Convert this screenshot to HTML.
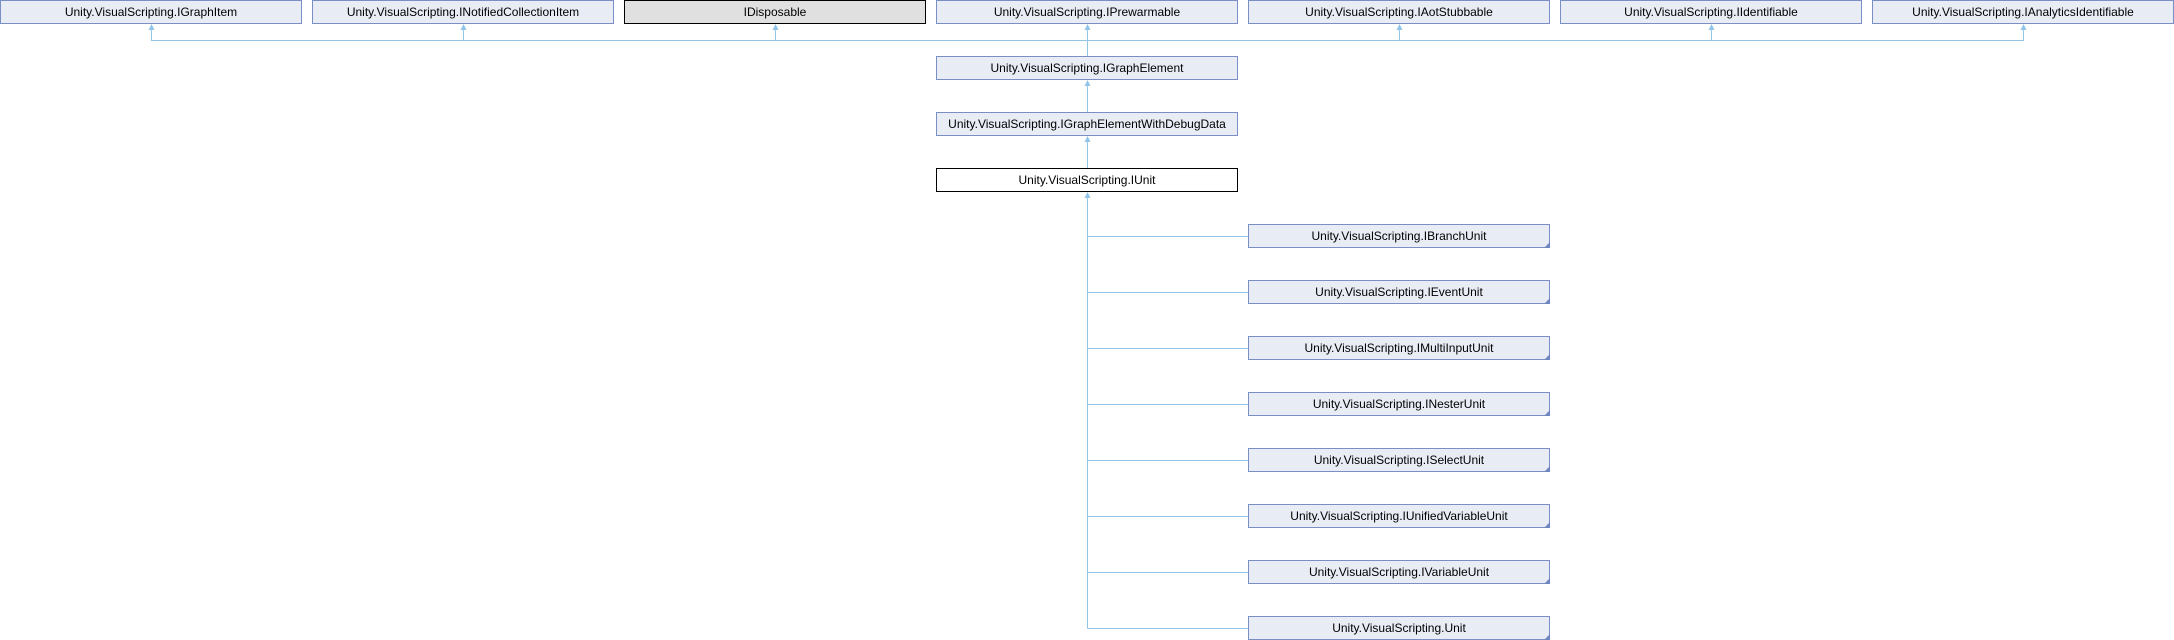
<!DOCTYPE html>
<html><head><meta charset="utf-8"><style>
html,body{margin:0;padding:0;background:#fff;}
svg{display:block;}
text{font-family:"Liberation Sans",Arial,sans-serif;font-size:12px;fill:#000;text-anchor:middle;}
.b{fill:#e8ecf5;stroke:#7b8fc6;stroke-width:1;}
.l{stroke:#93c6e6;stroke-width:1;fill:none;}
.a{fill:#93c6e6;}
.c{fill:#6f86bf;}
</style></head><body>
<svg width="2174" height="640" viewBox="0 0 2174 640" xmlns="http://www.w3.org/2000/svg">
<rect class="b" x="0.5" y="0.5" width="301" height="23"/><text x="151" y="16">Unity.VisualScripting.IGraphItem</text>
<rect class="b" x="312.5" y="0.5" width="301" height="23"/><text x="463" y="16">Unity.VisualScripting.INotifiedCollectionItem</text>
<rect x="624.5" y="0.5" width="301" height="23" fill="#e0e0e0" stroke="#000"/><text x="775" y="16">IDisposable</text>
<rect class="b" x="936.5" y="0.5" width="301" height="23"/><text x="1087" y="16">Unity.VisualScripting.IPrewarmable</text>
<rect class="b" x="1248.5" y="0.5" width="301" height="23"/><text x="1399" y="16">Unity.VisualScripting.IAotStubbable</text>
<rect class="b" x="1560.5" y="0.5" width="301" height="23"/><text x="1711" y="16">Unity.VisualScripting.IIdentifiable</text>
<rect class="b" x="1872.5" y="0.5" width="301" height="23"/><text x="2023" y="16">Unity.VisualScripting.IAnalyticsIdentifiable</text>
<path class="l" d="M151.5 26V40.5H2023.5V26 M463.5 26V40.5 M775.5 26V40.5 M1087.5 26V56 M1399.5 26V40.5 M1711.5 26V40.5"/>
<g class="a">
<polygon points="151.5,24 148.5,30 154.5,30"/>
<polygon points="463.5,24 460.5,30 466.5,30"/>
<polygon points="775.5,24 772.5,30 778.5,30"/>
<polygon points="1087.5,24 1084.5,30 1090.5,30"/>
<polygon points="1399.5,24 1396.5,30 1402.5,30"/>
<polygon points="1711.5,24 1708.5,30 1714.5,30"/>
<polygon points="2023.5,24 2020.5,30 2026.5,30"/>
</g>
<rect class="b" x="936.5" y="56.5" width="301" height="23"/><text x="1087" y="72">Unity.VisualScripting.IGraphElement</text>
<path class="l" d="M1087.5 82V112"/><polygon class="a" points="1087.5,80 1084.5,86 1090.5,86"/>
<rect class="b" x="936.5" y="112.5" width="301" height="23"/><text x="1087" y="128">Unity.VisualScripting.IGraphElementWithDebugData</text>
<path class="l" d="M1087.5 138V168"/><polygon class="a" points="1087.5,136 1084.5,142 1090.5,142"/>
<rect x="936.5" y="168.5" width="301" height="23" fill="#fff" stroke="#000"/><text x="1087" y="184">Unity.VisualScripting.IUnit</text>
<path class="l" d="M1087.5 194V628.5"/><polygon class="a" points="1087.5,192 1084.5,198 1090.5,198"/>
<g>
<path class="l" d="M1087.5 236.5H1248 M1087.5 292.5H1248 M1087.5 348.5H1248 M1087.5 404.5H1248 M1087.5 460.5H1248 M1087.5 516.5H1248 M1087.5 572.5H1248 M1087.5 628.5H1248"/>
<rect class="b" x="1248.5" y="224.5" width="301" height="23"/><text x="1399" y="240">Unity.VisualScripting.IBranchUnit</text><polygon class="c" points="1550,242 1550,248 1544,248"/>
<rect class="b" x="1248.5" y="280.5" width="301" height="23"/><text x="1399" y="296">Unity.VisualScripting.IEventUnit</text><polygon class="c" points="1550,298 1550,304 1544,304"/>
<rect class="b" x="1248.5" y="336.5" width="301" height="23"/><text x="1399" y="352">Unity.VisualScripting.IMultiInputUnit</text><polygon class="c" points="1550,354 1550,360 1544,360"/>
<rect class="b" x="1248.5" y="392.5" width="301" height="23"/><text x="1399" y="408">Unity.VisualScripting.INesterUnit</text><polygon class="c" points="1550,410 1550,416 1544,416"/>
<rect class="b" x="1248.5" y="448.5" width="301" height="23"/><text x="1399" y="464">Unity.VisualScripting.ISelectUnit</text><polygon class="c" points="1550,466 1550,472 1544,472"/>
<rect class="b" x="1248.5" y="504.5" width="301" height="23"/><text x="1399" y="520">Unity.VisualScripting.IUnifiedVariableUnit</text><polygon class="c" points="1550,522 1550,528 1544,528"/>
<rect class="b" x="1248.5" y="560.5" width="301" height="23"/><text x="1399" y="576">Unity.VisualScripting.IVariableUnit</text><polygon class="c" points="1550,578 1550,584 1544,584"/>
<rect class="b" x="1248.5" y="616.5" width="301" height="23"/><text x="1399" y="632">Unity.VisualScripting.Unit</text><polygon class="c" points="1550,634 1550,640 1544,640"/>
</g>
</svg>
</body></html>
